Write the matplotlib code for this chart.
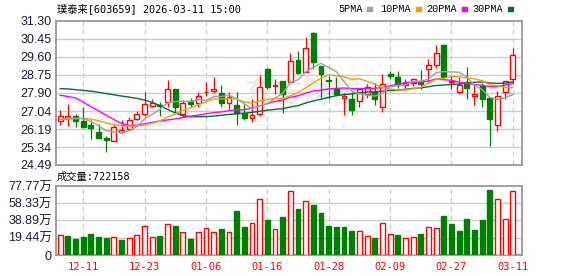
import matplotlib
matplotlib.use('Agg')
import matplotlib.pyplot as plt
from matplotlib.patches import Rectangle
import numpy as np

plt.rcParams['font.family'] = ['Noto Sans CJK SC', 'DejaVu Sans']

# ---------------- data ----------------
title_text = "璞泰来[603659] 2026-03-11 15:00"
volume_title = "成交量:722158"

tick_idx = [3, 11, 19, 27, 35, 43, 51, 59]
tick_labels = ['12-11', '12-23', '01-06', '01-16', '01-28', '02-09', '02-27', '03-11']

price_ticks = [24.49, 25.34, 26.19, 27.04, 27.90, 28.75, 29.60, 30.45, 31.30]
price_tick_labels = ['24.49', '25.34', '26.19', '27.04', '27.90', '28.75', '29.60', '30.45', '31.30']
vol_ticks = [0, 19.44, 38.89, 58.33, 77.77]
vol_tick_labels = ['0', '19.44万', '38.89万', '58.33万', '77.77万']

opens = [26.59, 26.70, 26.83, 26.56, 26.37, 26.07, 25.77, 25.63, 26.04, 26.17,
         26.67, 26.91, 27.29, 27.35, 27.47, 28.10, 26.92, 27.54, 27.43, 27.92,
         28.01, 27.88, 27.44, 27.32, 26.97, 26.73, 26.92, 29.02, 28.23, 28.45,
         28.42, 29.44, 28.89, 30.74, 29.15, 28.50, 28.07, 27.68, 27.60, 27.52,
         27.84, 27.92, 27.21, 28.80, 28.63, 28.28, 28.39, 28.47, 29.05, 29.24,
         30.15, 28.42, 27.96, 28.42, 27.76, 28.23, 27.68, 26.37, 27.95, 28.58]
highs = [27.10, 27.36, 26.92, 27.24, 26.61, 26.42, 25.85, 26.37, 26.61, 26.77,
         27.03, 27.92, 27.60, 27.47, 28.50, 28.10, 27.55, 27.68, 27.92, 28.42,
         28.64, 28.26, 27.95, 27.95, 27.36, 27.60, 28.74, 29.07, 28.58, 28.47,
         29.78, 29.87, 30.56, 30.78, 29.18, 28.70, 28.63, 27.88, 27.95, 28.10,
         28.31, 28.36, 28.78, 28.94, 28.94, 28.58, 28.58, 28.99, 29.52, 30.15,
         30.15, 28.70, 28.67, 29.11, 28.34, 28.39, 27.68, 28.00, 28.47, 30.00]
lows = [26.37, 26.34, 26.29, 26.29, 25.71, 25.72, 25.11, 25.63, 25.98, 26.17,
        26.62, 26.81, 27.24, 26.81, 27.25, 26.92, 26.77, 27.21, 27.21, 27.76,
        27.88, 27.22, 27.13, 26.40, 26.61, 26.53, 26.81, 28.10, 27.84, 26.97,
        28.42, 28.78, 28.89, 29.02, 27.68, 27.60, 27.81, 26.86, 26.86, 27.25,
        27.68, 27.32, 27.00, 28.55, 28.15, 28.15, 28.23, 28.07, 28.39, 29.10,
        28.55, 28.07, 27.84, 27.60, 27.32, 27.24, 25.39, 26.10, 27.63, 28.39]
closes = [26.83, 26.82, 26.59, 26.29, 26.23, 25.76, 25.68, 26.28, 26.13, 26.64,
          26.88, 27.38, 27.44, 27.29, 28.10, 27.25, 27.40, 27.39, 27.73, 27.95,
          28.10, 27.44, 27.71, 26.97, 26.72, 26.86, 28.20, 28.18, 28.29, 27.84,
          29.43, 28.86, 30.04, 29.37, 28.78, 28.45, 27.84, 27.74, 27.10, 28.10,
          28.18, 27.63, 28.34, 28.70, 28.31, 28.36, 28.55, 28.31, 29.24, 29.78,
          28.66, 28.47, 28.26, 28.12, 27.84, 27.60, 26.65, 27.73, 28.47, 29.68]

ma5 = [26.65, 26.66, 26.68, 26.68, 26.55, 26.34, 26.11, 26.05, 26.02, 26.10,
       26.32, 26.66, 26.89, 27.13, 27.42, 27.49, 27.50, 27.49, 27.58, 27.55,
       27.72, 27.73, 27.79, 27.63, 27.39, 27.14, 27.29, 27.39, 27.65, 27.88,
       28.39, 28.52, 28.89, 29.11, 29.30, 29.10, 28.90, 28.44, 27.98, 27.85,
       27.79, 27.75, 27.87, 28.19, 28.23, 28.27, 28.45, 28.45, 28.55, 28.85,
       28.91, 28.89, 28.88, 28.66, 28.27, 28.06, 27.69, 27.59, 27.66, 27.83]
ma10 = [26.65, 26.69, 26.70, 26.70, 26.66, 26.58, 26.48, 26.40, 26.35, 26.33,
        26.33, 26.39, 26.47, 26.57, 26.76, 26.91, 27.08, 27.19, 27.35, 27.48,
        27.61, 27.61, 27.64, 27.61, 27.47, 27.43, 27.51, 27.59, 27.64, 27.63,
        27.77, 27.91, 28.14, 28.38, 28.59, 28.75, 28.71, 28.66, 28.55, 28.57,
        28.45, 28.32, 28.15, 28.09, 28.04, 28.03, 28.10, 28.16, 28.37, 28.54,
        28.59, 28.67, 28.66, 28.61, 28.56, 28.48, 28.29, 28.24, 28.16, 28.15]
ma20 = [27.79, 27.73, 27.66, 27.47, 27.25, 27.05, 26.84, 26.64, 26.45, 26.36,
        26.37, 26.44, 26.51, 26.57, 26.62, 26.67, 26.73, 26.79, 26.85, 26.91,
        26.97, 27.00, 27.06, 27.09, 27.11, 27.17, 27.29, 27.39, 27.50, 27.56,
        27.69, 27.76, 27.89, 27.99, 28.03, 28.09, 28.11, 28.13, 28.10, 28.10,
        28.11, 28.12, 28.15, 28.23, 28.31, 28.39, 28.41, 28.41, 28.46, 28.56,
        28.52, 28.50, 28.41, 28.35, 28.30, 28.26, 28.20, 28.20, 28.27, 28.34]
ma30 = [28.10, 28.09, 28.05, 28.02, 27.98, 27.93, 27.87, 27.81, 27.75, 27.70,
        27.64, 27.56, 27.45, 27.30, 27.12, 26.95, 26.82, 26.78, 26.77, 26.78,
        26.80, 26.84, 26.88, 26.91, 26.94, 26.98, 27.03, 27.08, 27.12, 27.15,
        27.23, 27.30, 27.42, 27.52, 27.60, 27.69, 27.77, 27.82, 27.85, 27.90,
        27.94, 27.95, 27.98, 28.02, 28.03, 28.07, 28.11, 28.14, 28.19, 28.25,
        28.27, 28.30, 28.32, 28.36, 28.40, 28.42, 28.37, 28.35, 28.36, 28.42]

volumes = [22.6, 21.9, 18.5, 20.8, 24.2, 20.8, 19.6, 20.4, 16.6, 19.3,
           22.6, 32.8, 20.4, 21.9, 35.1, 33.2, 26.0, 18.5, 26.0, 30.6,
           26.0, 29.8, 26.0, 49.1, 31.0, 36.2, 63.4, 38.9, 29.4, 42.3,
           72.1, 51.3, 61.2, 55.9, 47.2, 33.2, 31.0, 32.1, 27.6, 27.2,
           21.5, 19.6, 36.2, 23.8, 23.0, 19.3, 20.4, 24.2, 31.7, 30.6,
           43.4, 34.4, 27.6, 41.1, 28.7, 40.0, 72.9, 63.4, 40.8, 72.2]
vol_dir = ['r', 'g', 'g', 'g', 'g', 'g', 'g', 'r', 'g', 'r',
           'r', 'r', 'r', 'g', 'r', 'g', 'r', 'g', 'r', 'r',
           'r', 'g', 'r', 'g', 'g', 'r', 'r', 'g', 'r', 'g',
           'r', 'g', 'r', 'g', 'g', 'g', 'g', 'g', 'g', 'r',
           'r', 'g', 'r', 'r', 'g', 'r', 'r', 'g', 'r', 'r',
           'g', 'g', 'g', 'g', 'g', 'g', 'g', 'r', 'r', 'r']

# ---------------- style ----------------
RED = '#ff0000'
GREEN = '#008000'
C_MA5 = '#a0a0a0'
C_MA10 = '#f0a000'
C_MA20 = '#ff00ff'
C_MA30 = '#006f3a'
GRID = '#cccccc'
FRAME = '#999999'
LABEL = '#1a1a3a'

W, H = 578, 276
fig = plt.figure(figsize=(W / 100, H / 100), dpi=100)
fig.patch.set_facecolor('white')

ax = fig.add_axes([56 / W, 1 - 165 / H, 466 / W, 144 / H])
axv = fig.add_axes([56 / W, 1 - 255 / H, 466 / W, 69 / H])

x = np.arange(len(opens))
o = np.array(opens); c = np.array(closes)
hi = np.array(highs); lo = np.array(lows)
up = c >= o
ccol = [RED if u else GREEN for u in up]

for a in (ax, axv):
    a.set_xlim(-0.55, 60.2)
    for s in a.spines.values():
        s.set_color(FRAME)
        s.set_linewidth(1.3)
    a.tick_params(length=0, pad=3)
    for t in tick_idx:
        a.axvline(t, color=GRID, lw=0.9, ls=(0, (4, 3)), zorder=0)

# price panel
ax.set_ylim(price_ticks[0], price_ticks[-1])
ax.set_yticks(price_ticks)
ax.set_yticklabels(price_tick_labels, family=['Liberation Sans'], fontsize=9, color=LABEL)
for yv in price_ticks[1:-1]:
    ax.axhline(yv, color=GRID, lw=1.0, zorder=0)
ax.set_xticks([])

ax.text(0.53, 0.5, '东方财富', transform=ax.transAxes, fontsize=21,
        color='#ededed', ha='center', va='center', zorder=0.5, fontweight='bold')

ax.vlines(x, lo, hi, colors=ccol, lw=0.9, zorder=2)
body_h = np.maximum(np.abs(c - o), 0.025)
body_b = np.minimum(o, c)
ax.bar(x, body_h, bottom=body_b, width=0.64,
       color=['white' if u else GREEN for u in up],
       edgecolor=ccol, linewidth=1.0, zorder=3)

ax.plot(x, ma30, color=C_MA30, lw=1.0, zorder=4)
ax.plot(x, ma20, color=C_MA20, lw=1.0, zorder=4)
ax.plot(x, ma10, color=C_MA10, lw=1.0, zorder=4)
ax.plot(x, ma5, color=C_MA5, lw=1.0, zorder=4)

# volume panel
axv.set_ylim(vol_ticks[0], vol_ticks[-1])
axv.set_yticks(vol_ticks)
axv.set_yticklabels(vol_tick_labels, family=['Liberation Sans', 'Noto Sans CJK SC'],
                    fontsize=9, color=LABEL)
for yv in vol_ticks[1:-1]:
    axv.axhline(yv, color=GRID, lw=1.0, zorder=0)
vcol = [RED if d == 'r' else GREEN for d in vol_dir]
axv.bar(x, volumes, width=0.64,
        color=['white' if d == 'r' else GREEN for d in vol_dir],
        edgecolor=vcol, linewidth=1.0, zorder=3)
axv.set_xticks(tick_idx)
axv.set_xticklabels(tick_labels, family=['DejaVu Sans Mono'], fontsize=7.5, color=RED)
axv.tick_params(axis='x', pad=5)


def fx(px):
    return px / W


def fy(py):
    return 1 - py / H


fig.text(fx(57), fy(9), title_text, family=['DejaVu Sans Mono', 'Noto Sans CJK SC'],
         fontsize=7.4, va='center', ha='left', color='black')
fig.text(fx(57), fy(177), volume_title, family=['DejaVu Sans Mono', 'Noto Sans CJK SC'],
         fontsize=7.4, va='center', ha='left', color='black')

legend_items = [('5PMA', C_MA5, 338, 367), ('10PMA', C_MA10, 380, 416),
                ('20PMA', C_MA20, 426, 462), ('30PMA', C_MA30, 472, 508)]
for name, col, tx, sx in legend_items:
    fig.text(fx(tx), fy(9), name, family=['Liberation Mono'], fontsize=7.3,
             va='center', ha='left', color='black')
    fig.patches.append(Rectangle((fx(sx), fy(11)), 5 / W, 4 / H,
                                 transform=fig.transFigure, color=col, zorder=5))

fig.savefig('out.png', dpi=100)
